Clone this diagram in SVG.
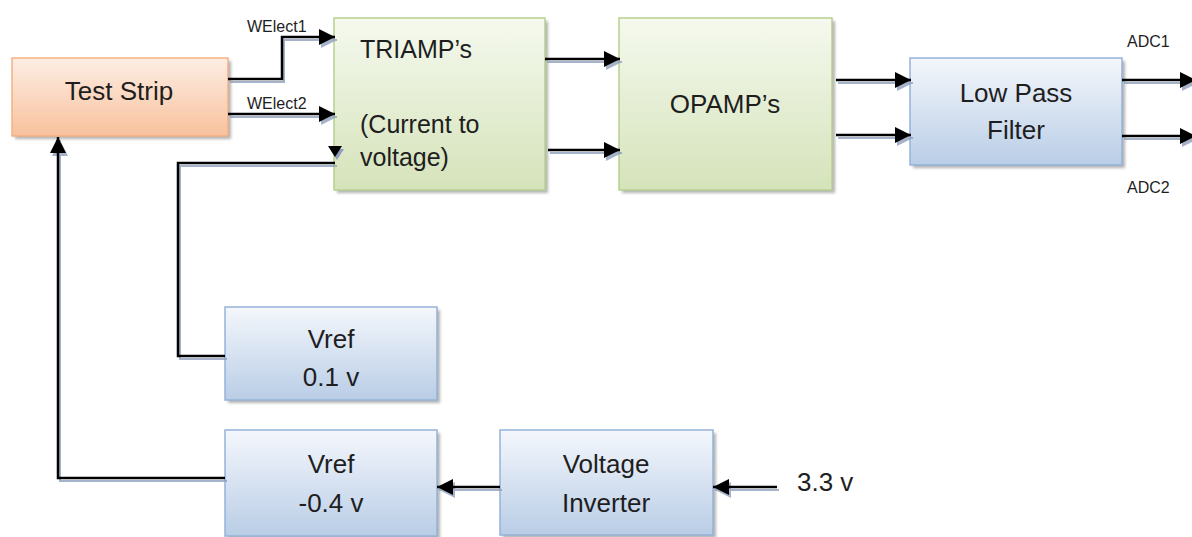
<svg xmlns="http://www.w3.org/2000/svg" width="1192" height="537" viewBox="0 0 1192 537">
<style>
  .lbl { font-family: "Liberation Sans", Arial, sans-serif; font-size: 26px; fill: #1e1e1e; }
  .sm { font-family: "Liberation Sans", Arial, sans-serif; font-size: 16px; fill: #1e1e1e; }
  .adc { font-family: "Liberation Sans", Arial, sans-serif; font-size: 16px; fill: #1e1e1e; }
  .wire { fill: none; stroke: #000; stroke-width: 2.5; }
  .wsh { fill: none; stroke: #8e9fbd; stroke-width: 2; opacity: 0.8; }
  .shadow { fill: #7f7f7f; opacity: 0.6; }
  .orange { fill: url(#gOrange); stroke: #f4b183; stroke-width: 1.5; }
  .green { fill: url(#gGreen); stroke: #b7d08e; stroke-width: 1.5; }
  .blue { fill: url(#gBlue); stroke: #95b3d7; stroke-width: 1.5; }
</style>
<defs>
  <linearGradient id="gOrange" x1="0" y1="0" x2="0" y2="1">
    <stop offset="0" stop-color="#fdeee4"/>
    <stop offset="1" stop-color="#f8c19c"/>
  </linearGradient>
  <linearGradient id="gGreen" x1="0" y1="0" x2="0" y2="1">
    <stop offset="0" stop-color="#f5f9ee"/>
    <stop offset="1" stop-color="#d5e3ba"/>
  </linearGradient>
  <linearGradient id="gBlue" x1="0" y1="0" x2="0" y2="1">
    <stop offset="0" stop-color="#f4f7fc"/>
    <stop offset="1" stop-color="#b9cde6"/>
  </linearGradient>
  <filter id="blur" x="-10%" y="-10%" width="120%" height="120%">
    <feGaussianBlur stdDeviation="1.5"/>
  </filter>
  <marker id="ah" markerUnits="userSpaceOnUse" markerWidth="18" markerHeight="16" refX="16" refY="8" orient="auto">
    <path d="M0,0 L16,8 L0,16 Z" fill="#000"/>
  </marker>
  <marker id="ahs" markerUnits="userSpaceOnUse" markerWidth="18" markerHeight="16" refX="16" refY="8" orient="auto">
    <path d="M0,0 L16,8 L0,16 Z" fill="#8e9fbd"/>
  </marker>
</defs>
<rect width="1192" height="537" fill="#ffffff"/>

<g id="node-test-strip">
  <rect class="shadow" x="15" y="61" width="216" height="78" filter="url(#blur)"/>
  <rect class="orange" x="12" y="58" width="216" height="78"/>
  <text class="lbl" x="119" y="100" text-anchor="middle">Test Strip</text>
</g>
<g id="node-triamp">
  <rect class="shadow" x="337" y="21" width="211" height="172" filter="url(#blur)"/>
  <rect class="green" x="334" y="18" width="211" height="172"/>
  <text class="lbl" x="360" y="58" style="font-size:25px">TRIAMP’s</text>
  <text class="lbl" x="360" y="133" style="font-size:25px">(Current to</text>
  <text class="lbl" x="360" y="166" style="font-size:25px">voltage)</text>
</g>
<g id="node-opamp">
  <rect class="shadow" x="622" y="21" width="213" height="172" filter="url(#blur)"/>
  <rect class="green" x="619" y="18" width="213" height="172"/>
  <text class="lbl" x="725" y="113" text-anchor="middle">OPAMP’s</text>
</g>
<g id="node-lpf">
  <rect class="shadow" x="913" y="61" width="212" height="107" filter="url(#blur)"/>
  <rect class="blue" x="910" y="58" width="212" height="107"/>
  <text class="lbl" x="1016" y="102" text-anchor="middle">Low Pass</text>
  <text class="lbl" x="1016" y="139" text-anchor="middle">Filter</text>
</g>
<g id="node-vref01">
  <rect class="shadow" x="228" y="310" width="212" height="93" filter="url(#blur)"/>
  <rect class="blue" x="225" y="307" width="212" height="93"/>
  <text class="lbl" x="331" y="348" text-anchor="middle">Vref</text>
  <text class="lbl" x="331" y="386" text-anchor="middle">0.1 v</text>
</g>
<g id="node-vref04">
  <rect class="shadow" x="228" y="433" width="212" height="106" filter="url(#blur)"/>
  <rect class="blue" x="225" y="430" width="212" height="106"/>
  <text class="lbl" x="331" y="473" text-anchor="middle">Vref</text>
  <text class="lbl" x="331" y="512" text-anchor="middle">-0.4 v</text>
</g>
<g id="node-inverter">
  <rect class="shadow" x="503" y="433" width="213" height="105" filter="url(#blur)"/>
  <rect class="blue" x="500" y="430" width="213" height="105"/>
  <text class="lbl" x="606" y="473" text-anchor="middle">Voltage</text>
  <text class="lbl" x="606" y="512" text-anchor="middle">Inverter</text>
</g>

<g id="connectors">
  <g transform="translate(2,3)">
    <path class="wsh" d="M228,79 H282 V37 H335" marker-end="url(#ahs)"/>
    <path class="wsh" d="M228,114 H335" marker-end="url(#ahs)"/>
    <path class="wsh" d="M225,356 H178 V163 H335"/>
    <path d="M328,146 L342,146 L335,157 Z" fill="#8e9fbd"/>
    <path class="wsh" d="M225,478 H58 V137" marker-end="url(#ahs)"/>
    <path class="wsh" d="M545,59 H620" marker-end="url(#ahs)"/>
    <path class="wsh" d="M548,150 H620" marker-end="url(#ahs)"/>
    <path class="wsh" d="M836,80 H911" marker-end="url(#ahs)"/>
    <path class="wsh" d="M836,135 H911" marker-end="url(#ahs)"/>
    <path class="wsh" d="M1122,80 H1196" marker-end="url(#ahs)"/>
    <path class="wsh" d="M1122,136 H1196" marker-end="url(#ahs)"/>
    <path class="wsh" d="M500,487 H437" marker-end="url(#ahs)"/>
    <path class="wsh" d="M777,487 H713" marker-end="url(#ahs)"/>
  </g>
  <path class="wire" d="M228,79 H282 V37 H335" marker-end="url(#ah)"/>
  <path class="wire" d="M228,114 H335" marker-end="url(#ah)"/>
  <path class="wire" d="M225,356 H178 V163 H335"/>
  <path d="M328,146 L342,146 L335,157 Z" fill="#000"/>
  <path class="wire" d="M225,478 H58 V137" marker-end="url(#ah)"/>
  <path class="wire" d="M545,59 H620" marker-end="url(#ah)"/>
  <path class="wire" d="M548,150 H620" marker-end="url(#ah)"/>
  <path class="wire" d="M836,80 H911" marker-end="url(#ah)"/>
  <path class="wire" d="M836,135 H911" marker-end="url(#ah)"/>
  <path class="wire" d="M1122,80 H1196" marker-end="url(#ah)"/>
  <path class="wire" d="M1122,136 H1196" marker-end="url(#ah)"/>
  <path class="wire" d="M500,487 H437" marker-end="url(#ah)"/>
  <path class="wire" d="M777,487 H713" marker-end="url(#ah)"/>
  <text class="sm" x="247" y="32">WElect1</text>
  <text class="sm" x="247" y="109">WElect2</text>
  <text class="adc" x="1127" y="47">ADC1</text>
  <text class="adc" x="1127" y="193">ADC2</text>
  <text class="lbl" x="797" y="491">3.3 v</text>
</g>
</svg>
